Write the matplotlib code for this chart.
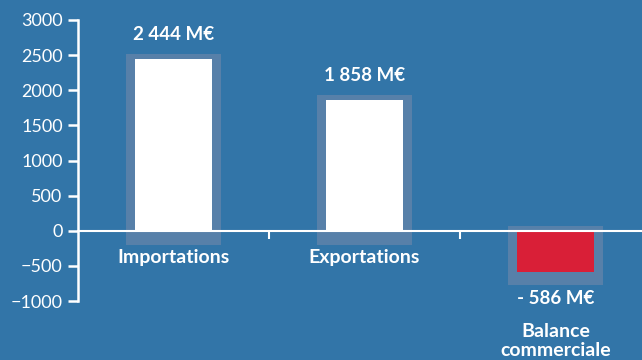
import numpy as np
import matplotlib.pyplot as plt

categories = ["Importations", "Exportations", "Balance\ncommerciale"]
values = [2444, 1858, -586]
value_labels = ["2 444 M€", "1 858 M€", "- 586 M€"]
yticks = [-1000, -500, 0, 500, 1000, 1500, 2000, 2500, 3000]

bg = "#3275a8"
halo = "#5780a9"
colors = ["white", "white", "#d91f37"]

plt.rcParams['font.family'] = ['Lato', 'DejaVu Sans']

fig = plt.figure(figsize=(6.42, 3.6), dpi=100)
fig.patch.set_facecolor(bg)
ax = fig.add_axes([78/642, 1 - 301/360, 1 - 78/642, 281/360])
ax.set_facecolor(bg)

x = np.arange(len(categories))

# soft halo behind each bar
for xi, v in zip(x, values):
    if v >= 0:
        lo, hi = -200, v + 75
    else:
        lo, hi = v - 190, 70
    ax.bar(xi, hi - lo, bottom=lo, width=0.5, color=halo, zorder=1)

ax.bar(x, values, width=0.40, color=colors, zorder=2)

for xi, v, lab in zip(x, values, value_labels):
    if v >= 0:
        ax.text(xi, v + 355, lab, ha='center', va='center', color='white',
                fontsize=13.5, fontweight='bold')
    else:
        ax.text(xi, v - 380, lab, ha='center', va='center', color='white',
                fontsize=13.5, fontweight='bold', clip_on=False)

for xi, v, cat in zip(x, values, categories):
    if v >= 0:
        ax.text(xi, -385, cat, ha='center', va='center', color='white',
                fontsize=14, fontweight='bold')
    else:
        ax.text(xi, -1565, cat, ha='center', va='center', color='white',
                fontsize=14, fontweight='bold', linespacing=1.15,
                clip_on=False)

ax.set_ylim(-1000, 3000)
ax.set_xlim(-0.5, -0.5 + (642 - 78) / 191)
ax.set_yticks(yticks)
ax.set_xticks([0.5, 1.5])
ax.set_xticklabels([])

for s in ['top', 'right']:
    ax.spines[s].set_visible(False)
ax.spines['left'].set_color('white')
ax.spines['left'].set_linewidth(1.8)
ax.spines['bottom'].set_position(('data', 0))
ax.spines['bottom'].set_color('white')
ax.spines['bottom'].set_linewidth(1.5)
ax.spines['bottom'].set_zorder(3)

ax.tick_params(axis='y', colors='white', labelsize=13, length=7, width=1.8, pad=4)
ax.tick_params(axis='x', colors='white', length=6, width=1.5, direction='out')

fig.savefig("out.png", dpi=100, facecolor=bg)
